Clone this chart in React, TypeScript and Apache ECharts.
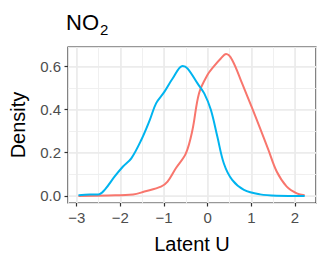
import React, { useEffect, useRef } from "react";
import * as echarts from "echarts";

const blueX = [-2.96, -2.7, -2.51, -2.36, -2.13, -1.94, -1.75, -1.52, -1.33, -1.18, -0.99, -0.8, -0.575, -0.46, -0.23, -0.08, 0.07, 0.22, 0.37, 0.56, 0.83, 1.2, 1.58, 2.22];
const blueY = [0.003, 0.006, 0.006, 0.028, 0.09, 0.136, 0.174, 0.26, 0.35, 0.43, 0.483, 0.545, 0.602, 0.59, 0.52, 0.475, 0.4, 0.275, 0.15, 0.074, 0.028, 0.007, 0.001, 0.0];
const redX = [-2.96, -2.28, -1.71, -1.45, -1.07, -0.92, -0.73, -0.5, -0.35, -0.2, -0.007, 0.14, 0.3, 0.42, 0.56, 0.79, 1.02, 1.2, 1.39, 1.58, 1.81, 2.04, 2.22];
const redY = [0.0, 0.002, 0.006, 0.02, 0.043, 0.066, 0.128, 0.197, 0.305, 0.475, 0.56, 0.6, 0.637, 0.657, 0.63, 0.52, 0.405, 0.313, 0.213, 0.113, 0.043, 0.012, 0.003];
const xTicks = [-3, -2, -1, 0, 1, 2];
const yTicks = [0, 0.2, 0.4, 0.6];

const FONT = "'Liberation Sans', Arial, Helvetica, sans-serif";

export default function App() {
  const ref = useRef<HTMLDivElement>(null);
  useEffect(() => {
    if (!ref.current) return;
    const chart = echarts.init(ref.current, undefined, { renderer: "svg" });
    const xMin = -3.2, xMax = 2.48, yMin = -0.033, yMax = 0.69;
    const hidden = {
      axisLine: { show: false, onZero: false },
      axisTick: { show: false },
      axisLabel: { show: false },
    };
    chart.setOption({
      animation: false,
      backgroundColor: "#ffffff",
      textStyle: { fontFamily: FONT },
      title: {
        text: "{a|NO}{b|2}",
        left: 66,
        top: 7,
        padding: 0,
        textStyle: {
          fontWeight: "normal",
          rich: {
            a: { fontSize: 22, fontWeight: "normal", fontFamily: FONT, color: "#000", lineHeight: 26, verticalAlign: "bottom" },
            b: { fontSize: 15, fontWeight: "normal", fontFamily: FONT, color: "#000", lineHeight: 26, verticalAlign: "bottom", padding: [0, 0, -4, 1] },
          },
        },
      },
      grid: {
        left: 66, top: 47, width: 250, height: 156,
        show: true, borderColor: "#333333", borderWidth: 1.2, backgroundColor: "transparent",
        containLabel: false,
      },
      xAxis: [
        {
          type: "value", min: xMin, max: xMax, splitNumber: 5,
          name: "Latent U", nameLocation: "middle", nameGap: 31,
          nameTextStyle: { fontSize: 20, color: "#000", fontFamily: FONT },
          axisLine: { show: false, onZero: false },
          axisTick: { show: true, length: 3.5, lineStyle: { color: "#333333", width: 1.2 }, customValues: xTicks },
          axisLabel: {
            customValues: xTicks, fontSize: 15, color: "#4D4D4D", margin: 7, fontFamily: FONT,
            formatter: (v: number) => String(v).replace("-", "\u2212"),
          },
          splitLine: { show: true, lineStyle: { color: "#EBEBEB", width: 1.6 } },
          z: 1,
        },
        {
          type: "value", min: xMin, max: xMax, splitNumber: 11, ...hidden,
          splitLine: { show: true, lineStyle: { color: "#EEEEEE", width: 0.9 } },
          z: 0,
        },
      ],
      yAxis: [
        {
          type: "value", min: yMin, max: yMax, splitNumber: 4,
          name: "Density", nameLocation: "middle", nameGap: 40,
          nameTextStyle: { fontSize: 20, color: "#000", fontFamily: FONT },
          axisLine: { show: false, onZero: false },
          axisTick: { show: true, length: 3.5, lineStyle: { color: "#333333", width: 1.2 }, customValues: yTicks },
          axisLabel: {
            customValues: yTicks, fontSize: 15, color: "#4D4D4D", margin: 7, fontFamily: FONT,
            formatter: (v: number) => v.toFixed(1),
          },
          splitLine: { show: true, lineStyle: { color: "#EBEBEB", width: 1.6 } },
          z: 1,
        },
        {
          type: "value", min: yMin, max: yMax, splitNumber: 8, ...hidden,
          splitLine: { show: true, lineStyle: { color: "#EEEEEE", width: 0.9 } },
          z: 0,
        },
      ],
      series: [
        {
          type: "line", name: "red", xAxisIndex: 0, yAxisIndex: 0,
          data: redX.map((x, i) => [x, redY[i]]),
          smooth: 0.35, showSymbol: false, symbol: "none",
          lineStyle: { color: "#F8766D", width: 2 }, z: 3,
        },
        {
          type: "line", name: "blue", xAxisIndex: 0, yAxisIndex: 0,
          data: blueX.map((x, i) => [x, blueY[i]]),
          smooth: 0.35, showSymbol: false, symbol: "none",
          lineStyle: { color: "#00B4EF", width: 2 }, z: 4,
        },
      ],
    });
    return () => chart.dispose();
  }, []);
  return <div ref={ref} style={{ width: 327, height: 262, position: "absolute", left: 0, top: 0 }} />;
}
